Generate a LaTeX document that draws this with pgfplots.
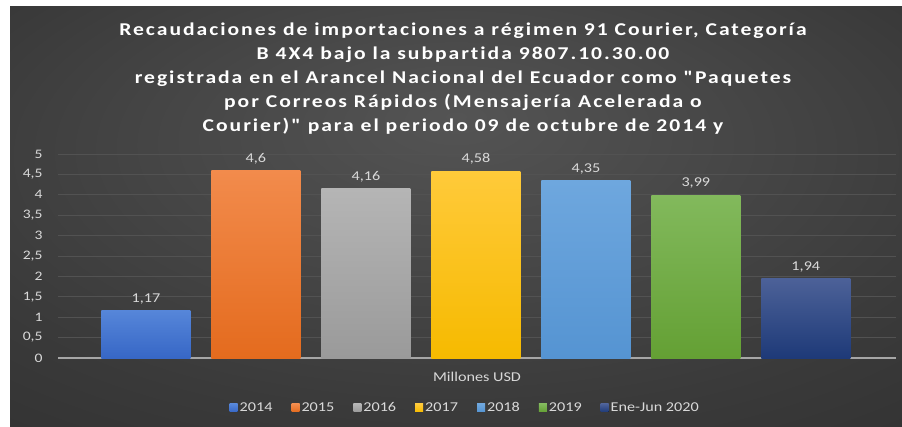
\documentclass[border=0pt]{standalone}
\usepackage{pgfplots}
\pgfplotsset{compat=1.18}
\usepackage{fontspec}
\setmainfont{Carlito}[FakeStretch=1.2]
\newfontfamily\titlefont{Carlito}[FakeStretch=1.2, LetterSpace=11, Ligatures=NoCommon]
\definecolor{bgA}{HTML}{545454}
\definecolor{bgB}{HTML}{3A3A3A}
\definecolor{bgC}{HTML}{242424}
\definecolor{lbl}{HTML}{D9D9D9}
\definecolor{gridc}{HTML}{525252}
\definecolor{zeroc}{HTML}{A6A6A6}
\definecolor{cAt}{HTML}{5686D9}\definecolor{cAb}{HTML}{3767C6}
\definecolor{cBt}{HTML}{F28B4C}\definecolor{cBb}{HTML}{E46B1E}
\definecolor{cCt}{HTML}{B5B5B5}\definecolor{cCb}{HTML}{9A9A9A}
\definecolor{cDt}{HTML}{FFCA3A}\definecolor{cDb}{HTML}{F6BA00}
\definecolor{cEt}{HTML}{6EA7DE}\definecolor{cEb}{HTML}{5594D2}
\definecolor{cFt}{HTML}{82B95C}\definecolor{cFb}{HTML}{64A034}
\definecolor{cGt}{HTML}{4C6198}\definecolor{cGb}{HTML}{1E3A78}
\pgfdeclareradialshading{bgshade}{\pgfpoint{0bp}{12bp}}{color(0bp)=(bgA); color(30bp)=(bgB); color(62bp)=(bgC)}
\begin{document}
\begin{tikzpicture}[x=1pt,y=1pt]
\fill[white] (0,0) rectangle (902,426);
\shade[shading=bgshade] (10,0) rectangle (902,419);
\node[font=\titlefont\bfseries\fontsize{18}{24}\selectfont, text=white, align=center, inner sep=0pt] at (463,347)
{Recaudaciones de importaciones a régimen 91 Courier, Categoría\\
B 4X4 bajo la subpartida 9807.10.30.00\\
registrada en el Arancel Nacional del Ecuador como "Paquetes\\
por Correos Rápidos (Mensajería Acelerada o\\
Courier)" para el periodo 09 de octubre de 2014 y};
\begin{axis}[
  at={(58pt,68pt)}, anchor=south west,
  scale only axis, width=838pt, height=204pt,
  ybar, bar width=89pt,
  ymin=0, ymax=5, xmin=-0.8, xmax=6.82,
  ytick={0,0.5,...,5}, xtick=\empty,
  /pgf/number format/use comma,
  /pgf/number format/assume math mode=true,
  axis x line*=bottom, axis y line*=left,
  x axis line style={draw=zeroc, line width=1.3pt, -},
  y axis line style={draw=none},
  tick style={draw=none},
  ymajorgrids, grid style={draw=gridc, line width=0.9pt},
  yticklabel style={font=\fontsize{13}{15}\selectfont, text=lbl, xshift=-12pt},
  xlabel={Millones USD},
  xlabel style={at={(axis description cs:0.5,-0.093)}, anchor=center, font=\fontsize{13.5}{15}\selectfont, text=lbl},
  nodes near coords={\pgfmathprintnumber[fixed,precision=2,use comma]{\pgfplotspointmeta}},
  nodes near coords style={font=\fontsize{13.5}{15}\selectfont, text=lbl, yshift=3pt},
  legend columns=7,
  legend image code/.code={\fill[#1] (0pt,-4pt) rectangle (8pt,4pt);},
  legend style={at={(0.486,-0.245)}, anchor=center, draw=none, fill=none, text=lbl,
    font=\fontsize{13.5}{15}\selectfont,
    /tikz/every even column/.append style={column sep=17pt}},
]
\addplot[bar shift=0pt, draw=none, top color=cAt, bottom color=cAb] coordinates {(0,1.17)};
\addplot[bar shift=0pt, draw=none, top color=cBt, bottom color=cBb] coordinates {(1,4.6)};
\addplot[bar shift=0pt, draw=none, top color=cCt, bottom color=cCb] coordinates {(2,4.16)};
\addplot[bar shift=0pt, draw=none, top color=cDt, bottom color=cDb] coordinates {(3,4.58)};
\addplot[bar shift=0pt, draw=none, top color=cEt, bottom color=cEb] coordinates {(4,4.35)};
\addplot[bar shift=0pt, draw=none, top color=cFt, bottom color=cFb] coordinates {(5,3.99)};
\addplot[bar shift=0pt, draw=none, top color=cGt, bottom color=cGb] coordinates {(6,1.94)};
\legend{2014,2015,2016,2017,2018,2019,Ene-Jun 2020}
\end{axis}
\end{tikzpicture}
\end{document}
